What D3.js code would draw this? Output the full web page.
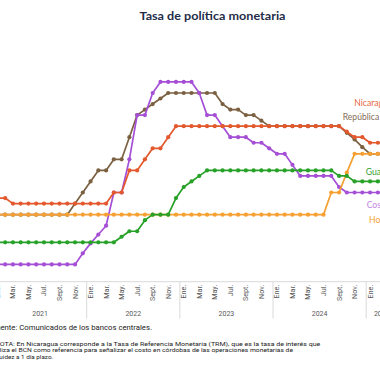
<!DOCTYPE html>
<html><head><meta charset="utf-8">
<script src="https://cdn.jsdelivr.net/npm/d3@7"></script>
<style>html,body{margin:0;padding:0;background:#fff;overflow:hidden}</style>
</head><body><svg id="c" width="380" height="380"></svg>
<script>
// ---- data ----
const years = ["2021","2022","2023","2024","2025"];
const monthNames = ["Ene.","Feb.","Mar.","Abr.","May.","Jun.","Jul.","Ago.","Sept.","Oct.","Nov.","Dic."];
// months Jan 2021 .. Apr 2025
const months = [];
years.forEach(y => monthNames.forEach((m, k) => { if (y !== "2025" || k < 4) months.push(y + "-" + String(k + 1).padStart(2, "0")); }));

const honduras = [3,3,3,3,3,3,3,3,3,3,3,3, 3,3,3,3,3,3,3,3,3,3,3,3, 3,3,3,3,3,3,3,3,3,3,3,3, 3,3,3,3,3,3,3,4,4,4.9,5.75,5.75, 5.75,5.75,5.75,5.75];
const guatemala = [1.75,1.75,1.75,1.75,1.75,1.75,1.75,1.75,1.75,1.75,1.75,1.75, 1.75,1.75,1.75,1.75,2,2.25,2.25,2.75,3,3,3,3.75, 4.25,4.5,4.75,5,5,5,5,5,5,5,5,5, 5,5,5,5,5,5,5,5,4.75,4.75,4.5,4.5, 4.5,4.5,4.5,4.5];
const costaRica = [0.75,0.75,0.75,0.75,0.75,0.75,0.75,0.75,0.75,0.75,0.75,1.25, 1.7,2.1,2.5,4,4,5.5,7.5,7.5,8.5,9,9,9, 9,9,8.5,7.5,7.5,7,6.5,6.5,6.5,6.25,6.25,6, 5.75,5.75,5.25,4.75,4.75,4.75,4.75,4.75,4.25,4,4,4, 4,4,4,4];
const nicaragua = [3.75,3.75,3.5,3.5,3.5,3.5,3.5,3.5,3.5,3.5,3.5,3.5, 3.5,3.5,3.5,4,4,5,5,5.5,6,6,6.5,7, 7,7,7,7,7,7,7,7,7,7,7,7, 7,7,7,7,7,7,7,7,7,6.75,6.5,6.5, 6.25,6.25,6.25,6.25];
const dominicana = [3,3,3,3,3,3,3,3,3,3,3.5,4, 4.5,5,5,5.5,5.5,6.5,7.5,7.75,8,8.25,8.5,8.5, 8.5,8.5,8.5,8.5,8.5,8,7.75,7.75,7.5,7.5,7.25,7, 7,7,7,7,7,7,7,7,7,6.7,6.4,6.05, 5.75,5.75,5.75,5.75];
const seriesNames = ["República Dominicana","Costa Rica","Honduras","Guatemala","Nicaragua"];
const title = "Tasa de política monetaria";
const source = "Fuente: Comunicados de los bancos centrales.";
const note = ["NOTA: En Nicaragua corresponde a la Tasa de Referencia Monetaria (TRM), que es la tasa de interés que",
              "utiliza el BCN como referencia para señalizar el costo en córdobas de las operaciones monetarias de",
              "liquidez a 1 día plazo."];

// ---- layout ----
const svg = d3.select("#c");
const step = 7.765, x0 = -6.5;
const x = d3.scaleBand().domain(months).range([x0, x0 + step * months.length]).padding(0);
const cx = m => x(m) + x.bandwidth() / 2;
const y = d3.scaleLinear().domain([0, 10]).range([281, 59.8]);

const colors = {
  "República Dominicana": "#7b6142",
  "Costa Rica": "#a54fd6",
  "Honduras": "#f5a031",
  "Guatemala": "#27a127",
  "Nicaragua": "#e4582d"
};
const labelColors = {
  "República Dominicana": "#7f6d57",
  "Costa Rica": "#c386e4",
  "Honduras": "#f5a031",
  "Guatemala": "#33a033",
  "Nicaragua": "#e8673f"
};
const dataBy = {
  "República Dominicana": dominicana,
  "Costa Rica": costaRica,
  "Honduras": honduras,
  "Guatemala": guatemala,
  "Nicaragua": nicaragua
};

// title
svg.append("text").attr("x", 212.5).attr("y", 20)
  .attr("text-anchor", "middle")
  .attr("font-family", "Lato, 'Open Sans', sans-serif").attr("font-weight", "bold")
  .attr("font-size", 11.5).attr("fill", "#1f2d4a")
  .attr("textLength", 146).attr("lengthAdjust", "spacingAndGlyphs")
  .text(title);

// x axis
const axisY = 281.7;
svg.append("line").attr("x1", 0).attr("x2", 380).attr("y1", axisY).attr("y2", axisY)
  .attr("stroke", "#d9d9d9").attr("stroke-width", 1);
// year separators
years.slice(1).forEach(yr => {
  const bx = x(yr + "-01");
  svg.append("line").attr("x1", bx).attr("x2", bx).attr("y1", axisY).attr("y2", 318.5)
    .attr("stroke", "#d9d9d9").attr("stroke-width", 1);
});
// month labels (every two months)
const tickMonths = months.filter(m => (+m.slice(5) - 1) % 2 === 0);
svg.append("g").selectAll("text").data(tickMonths).join("text")
  .attr("transform", m => `translate(${cx(m) + 2.5},${axisY + 3})rotate(-90)`)
  .attr("text-anchor", "end")
  .attr("font-family", "Roboto, 'Liberation Sans', sans-serif")
  .attr("font-size", 7.2).attr("fill", "#595959")
  .text(m => monthNames[+m.slice(5) - 1]);
// year labels
svg.append("g").selectAll("text").data(years).join("text")
  .attr("x", yr => {
    const ms = months.filter(m => m.startsWith(yr));
    return (x(ms[0]) + x(ms[ms.length - 1]) + x.bandwidth()) / 2;
  })
  .attr("y", 315.8).attr("text-anchor", "middle")
  .attr("font-family", "Roboto, 'Liberation Sans', sans-serif")
  .attr("font-size", 7).attr("fill", "#595959")
  .text(d => d);

// series
const line = d3.line().x((d, i) => cx(months[i])).y(d => y(d));
seriesNames.forEach(name => {
  const vals = dataBy[name];
  const g = svg.append("g");
  g.append("path").attr("d", line(vals)).attr("fill", "none")
    .attr("stroke", colors[name]).attr("stroke-width", 1.7).attr("stroke-linejoin", "round");
  g.selectAll("circle").data(vals).join("circle")
    .attr("cx", (d, i) => cx(months[i])).attr("cy", d => y(d)).attr("r", 2.1)
    .attr("fill", colors[name]);
});

// series labels
const labelPos = {
  "Nicaragua": [354.3, 105.5],
  "República Dominicana": [342.7, 120.3],
  "Guatemala": [365.7, 175.3],
  "Costa Rica": [366.7, 208.3],
  "Honduras": [369, 223.2]
};
seriesNames.forEach(name => {
  svg.append("text").attr("x", labelPos[name][0]).attr("y", labelPos[name][1])
    .attr("font-family", "Lato, 'Open Sans', sans-serif").attr("font-size", 8.6)
    .attr("fill", labelColors[name]).text(name);
});

// footnotes
const fn = svg.append("g").attr("font-family", "Roboto, 'Liberation Sans', sans-serif").attr("fill", "#222");
fn.append("text").attr("x", -8).attr("y", 329.8).attr("font-size", 6.9)
  .attr("textLength", 160).attr("lengthAdjust", "spacingAndGlyphs").text(source);
const noteX = [-5.2, -8, -7.3], noteY = [345.6, 352.4, 359.2], noteW = [325.5, 301, 60.5];
note.forEach((t, k) => {
  fn.append("text").attr("x", noteX[k]).attr("y", noteY[k]).attr("font-size", 6.2)
    .attr("textLength", noteW[k]).attr("lengthAdjust", "spacingAndGlyphs").text(t);
});
</script>
</body></html>
